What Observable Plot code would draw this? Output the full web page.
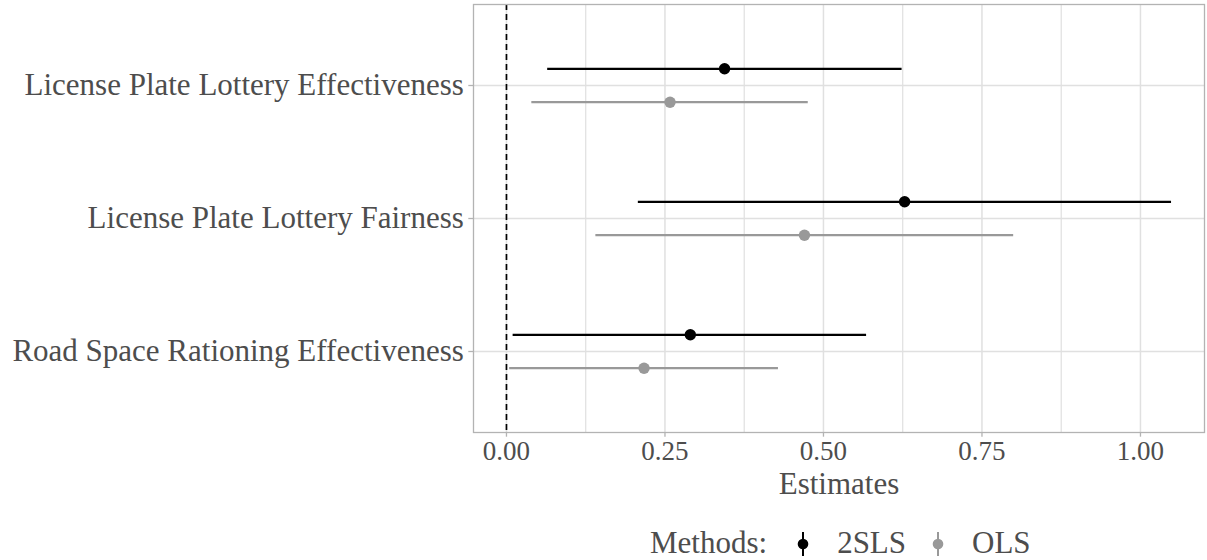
<!DOCTYPE html>
<html>
<head>
<meta charset="utf-8">
<script src="https://cdn.jsdelivr.net/npm/d3@7"></script>
<script src="https://cdn.jsdelivr.net/npm/@observablehq/plot@0.6"></script>
<style>
  html, body { margin: 0; padding: 0; background: white; }
  #chart { width: 1207px; }
  #legend { position: relative; width: 1207px; height: 40px; font-family: "Liberation Serif", serif; font-size: 31px; color: #4d4d4d; }
  #legend .row { position: absolute; left: 650px; top: 0; height: 40px; display: flex; align-items: center; }
  #legend span { display: inline-block; line-height: 40px; padding-top: 5px; }
  #legend svg { display: block; }
</style>
</head>
<body>
<div id="chart"></div>
<div id="legend"></div>
<script>
// ---- data ----
const categories = [
  "License Plate Lottery Effectiveness",
  "License Plate Lottery Fairness",
  "Road Space Rationing Effectiveness"
];
const methods = ["2SLS", "OLS"];
const methodColors = ["#000000", "#999999"];
const est2SLS = [0.344, 0.628, 0.290];
const lo2SLS  = [0.065, 0.208, 0.0105];
const hi2SLS  = [0.624, 1.049, 0.568];
const estOLS  = [0.258, 0.470, 0.217];
const loOLS   = [0.040, 0.141, 0.005];
const hiOLS   = [0.476, 0.800, 0.429];
const xTicks  = [0, 0.25, 0.5, 0.75, 1.0];
const xMinor  = [0.125, 0.375, 0.625, 0.875];
const xTitle  = "Estimates";
const legendTitle = "Methods:";

const rows2SLS = categories.map((c, i) => ({cat: c, est: est2SLS[i], lo: lo2SLS[i], hi: hi2SLS[i]}));
const rowsOLS  = categories.map((c, i) => ({cat: c, est: estOLS[i],  lo: loOLS[i],  hi: hiOLS[i]}));

const textColor = "#4d4d4d";
const gridColor = "#e0e0e0";
const borderColor = "#b3b3b3";
const off = 16.7;

const chart = Plot.plot({
  width: 1207,
  height: 520,
  marginLeft: 473,
  marginRight: 3,
  marginTop: 4,
  marginBottom: 88,
  style: {fontFamily: "Liberation Serif, serif", background: "white"},
  x: {domain: [-0.052, 1.101], label: null},
  y: {type: "point", domain: categories, padding: 0.6, label: null},
  marks: [
    Plot.ruleX(xMinor, {stroke: gridColor, strokeWidth: 1.2}),
    Plot.ruleX(xTicks, {stroke: gridColor, strokeWidth: 1.5}),
    Plot.ruleY(categories, {y: d => d, stroke: gridColor, strokeWidth: 1.5}),
    Plot.ruleX([0], {stroke: "black", strokeWidth: 1.7, strokeDasharray: "6,4"}),
    Plot.ruleY(rowsOLS, {y: "cat", x1: "lo", x2: "hi", dy: off, stroke: methodColors[1], strokeWidth: 2.2}),
    Plot.dot(rowsOLS, {x: "est", y: "cat", dy: off, r: 5.7, fill: methodColors[1], stroke: "none"}),
    Plot.ruleY(rows2SLS, {y: "cat", x1: "lo", x2: "hi", dy: -off, stroke: methodColors[0], strokeWidth: 2.2}),
    Plot.dot(rows2SLS, {x: "est", y: "cat", dy: -off, r: 5.7, fill: methodColors[0], stroke: "none"}),
    Plot.frame({stroke: borderColor, strokeWidth: 1.3}),
    Plot.axisX({ticks: xTicks, tickFormat: d3.format(".2f"), tickSize: 4.7, tickPadding: 4,
      stroke: borderColor, strokeWidth: 1.3, fill: textColor, fontSize: 27, label: null}),
    Plot.axisY({tickSize: 4.7, tickPadding: 5, stroke: borderColor, strokeWidth: 1.3,
      fill: textColor, fontSize: 31, label: null}),
    Plot.text([xTitle], {text: d => d, frameAnchor: "bottom", lineAnchor: "bottom", dy: 61,
      fill: textColor, fontSize: 31})
  ]
});
document.getElementById("chart").appendChild(chart);

// ---- legend (pointrange key glyphs) ----
const legend = d3.select("#legend").append("div").attr("class", "row");
legend.append("span").text(legendTitle).style("margin-right", "26px");
methods.forEach((m, i) => {
  const svg = legend.append("svg").attr("width", 20).attr("height", 40);
  svg.append("line").attr("x1", 10).attr("x2", 10).attr("y1", 12).attr("y2", 36)
    .attr("stroke", methodColors[i]).attr("stroke-width", 2);
  svg.append("circle").attr("cx", 10).attr("cy", 24).attr("r", 5.3).attr("fill", methodColors[i]);
  legend.append("span").text(m).style("margin-left", "24px").style("margin-right", i === 0 ? "22px" : "0px");
});
</script>
</body>
</html>
